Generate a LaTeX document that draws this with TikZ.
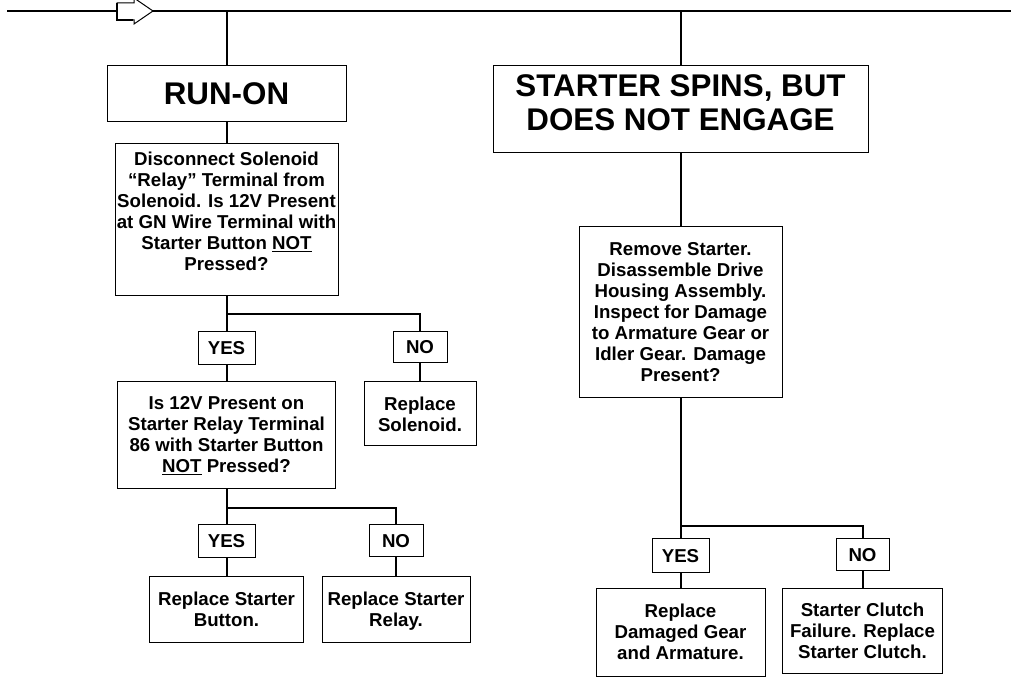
\documentclass[tikz,border=0pt]{standalone}
\usepackage{fontspec}
\setmainfont{Liberation Sans}
\usetikzlibrary{calc}
\newcommand{\bodyfont}{\fontsize{14}{15.75}\selectfont\bfseries}
\newcommand{\headfont}{\fontsize{23.5}{25.5}\selectfont\bfseries}
\newcommand{\lowpad}[1]{\rule[-#1]{0pt}{#1}}
\tikzset{
  wire/.style={draw=black, line width=1.5pt},
  box/.style={draw=black, line width=0.75pt, fill=white, align=center, inner sep=0pt, font=\bodyfont},
  head/.style={box, font=\headfont},
  sz/.style 2 args={minimum width=#1*0.75pt, minimum height=#2*0.75pt},
  flow/.style={draw=black, fill=white, line width=0.75pt, line join=miter},
}

\begin{document}
\begin{tikzpicture}[x=0.75pt, y=-0.75pt]
  \useasboundingbox (0,0) rectangle (1011,698);
  % main line with flow arrow
  \coordinate (mainL) at (7,11);
  \coordinate (mainR) at (1011,11);
  \draw[wire] (mainL) -- (mainR);
  \draw[flow] (117,3) -- (134,3) -- (134,-2) -- (153,11) -- (134,24) -- (134,20) -- (117,20) -- cycle;
  \draw[wire] (117,3) -- (117,20) -- (133,20);

  % run-on side
  \node[head, sz={239}{56}] (runon) at (226.5,94) {RUN-ON};
  \node[box, sz={223}{152}] (q1) at (226.5,220)
    {Disconnect Solenoid\\ “Relay” Terminal from\\ Solenoid. Is 12V Present\\
     at GN Wire Terminal with\\ Starter Button \underline{NOT}\\ Pressed?\lowpad{13.5pt}};
  \node[box, sz={57}{33}] (yes1) at (226.5,348.5) {YES};
  \node[box, sz={54}{31}] (no1) at (420,347.5) {NO};
  \node[box, sz={218}{107}] (q2) at (226.5,435.5)
    {Is 12V Present on\\ Starter Relay Terminal\\ 86 with Starter Button\\ \underline{NOT} Pressed?};
  \node[box, sz={112}{64}] (solenoid) at (420,414) {Replace\\ Solenoid.};
  \node[box, sz={57}{33}] (yes2) at (226.5,541.5) {YES};
  \node[box, sz={54}{32}] (no2) at (396,541) {NO};
  \node[box, sz={154}{65}] (button) at (226.5,609.5) {Replace Starter\\ Button.};
  \node[box, sz={148}{65}] (relay) at (396,609.5) {Replace Starter\\ \raisebox{0pt}[\height][0pt]{Relay.}};

  \coordinate (b1) at (226.5,314);
  \coordinate (b2) at (226.5,508);
  \draw[wire] (runon.north |- mainL) -- (runon.north);
  \draw[wire] (runon.south) -- (q1.north);
  \draw[wire] (q1.south) -- (yes1.north);
  \draw[wire] (b1) -| (no1.north);
  \draw[wire] (yes1.south) -- (q2.north);
  \draw[wire] (no1.south) -- (solenoid.north);
  \draw[wire] (q2.south) -- (yes2.north);
  \draw[wire] (b2) -| (no2.north);
  \draw[wire] (yes2.south) -- (button.north);
  \draw[wire] (no2.south) -- (relay.north);

  % starter spins side
  \node[head, sz={375}{87}] (spins) at (680.5,109.5) {STARTER SPINS, BUT\\ DOES NOT ENGAGE\lowpad{10pt}};
  \node[box, sz={203}{171}] (q3) at (680.5,312.5)
    {Remove Starter.\\ Disassemble Drive\\ Housing Assembly.\\ Inspect for Damage\\
     to Armature Gear or\\ Idler Gear. Damage\\ Present?};
  \node[box, sz={57}{34}] (yes3) at (680.5,556) {YES};
  \node[box, sz={53}{32}] (no3) at (862.5,555) {NO};
  \node[box, sz={169}{88}] (gear) at (680.5,632) {Replace\\ Damaged Gear\\ and Armature.};
  \node[box, sz={160}{85}] (clutch) at (862.5,630.5) {Starter Clutch\\ Failure. Replace\\ Starter Clutch.};

  \coordinate (b3) at (680.5,526);
  \draw[wire] (spins.north |- mainL) -- (spins.north);
  \draw[wire] (spins.south) -- (q3.north);
  \draw[wire] (q3.south) -- (yes3.north);
  \draw[wire] (b3) -| (no3.north);
  \draw[wire] (yes3.south) -- (gear.north);
  \draw[wire] (no3.south) -- (clutch.north);
\end{tikzpicture}
\end{document}
